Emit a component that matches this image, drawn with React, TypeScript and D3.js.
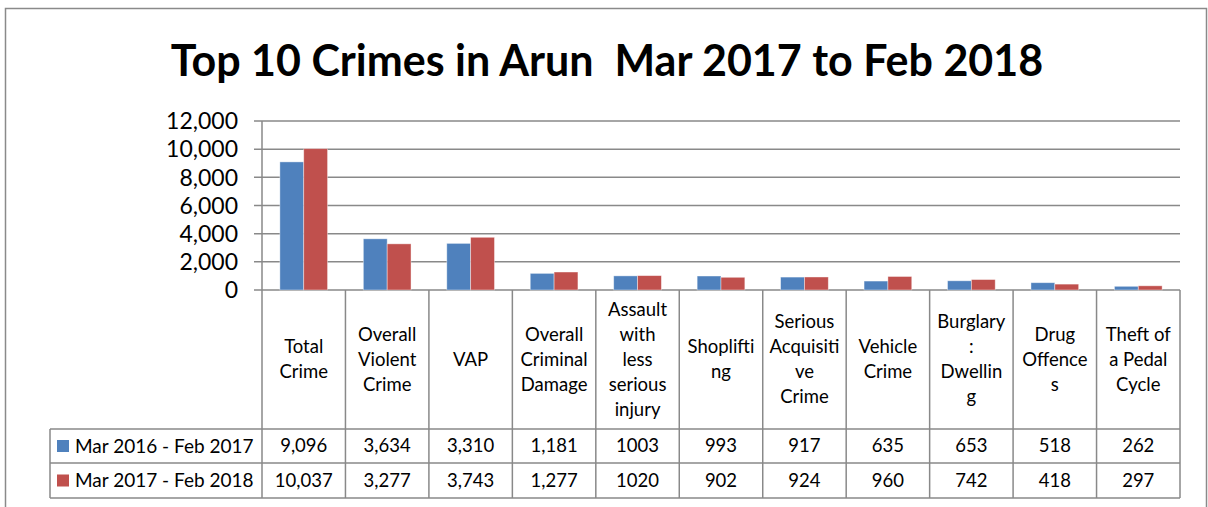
import React from "react";
import * as d3 from "d3";

const title = "Top 10 Crimes in Arun  Mar 2017 to Feb 2018";
const categories = [
  "Total\nCrime",
  "Overall\nViolent\nCrime",
  "VAP",
  "Overall\nCriminal\nDamage",
  "Assault\nwith\nless\nserious\ninjury",
  "Shoplifti\nng",
  "Serious\nAcquisiti\nve\nCrime",
  "Vehicle\nCrime",
  "Burglary\n:\nDwellin\ng",
  "Drug\nOffence\ns",
  "Theft of\na Pedal\nCycle",
];
const seriesNames = ["Mar 2016 - Feb 2017", "Mar 2017 - Feb 2018"];
const values2016 = [9096, 3634, 3310, 1181, 1003, 993, 917, 635, 653, 518, 262];
const values2017 = [10037, 3277, 3743, 1277, 1020, 902, 924, 960, 742, 418, 297];
const tableLabels2016 = ["9,096", "3,634", "3,310", "1,181", "1003", "993", "917", "635", "653", "518", "262"];
const tableLabels2017 = ["10,037", "3,277", "3,743", "1,277", "1020", "902", "924", "960", "742", "418", "297"];
const yTicks = [0, 2000, 4000, 6000, 8000, 10000, 12000];
const colors = ["#4F81BD", "#C0504D"];

const W = 1208;
const H = 507;
const font = "Lato, 'Noto Sans', sans-serif";
const gridColor = "#898989";

export default function App() {
  const left = 262;
  const right = 1180;
  const top = 121;
  const bottom = 290;
  const headerBottom = 429;
  const rowMid = 463;
  const rowBottom = 498;
  const legendLeft = 50;

  const x = d3.scaleBand<number>().domain(d3.range(categories.length)).range([left, right]);
  const y = d3.scaleLinear().domain([0, 12000]).range([bottom, top]);
  const inner = d3.scaleBand<number>().domain([0, 1]).range([0, x.bandwidth()]).paddingOuter(0.75);
  const fmt = d3.format(",");
  const series = [values2016, values2017];
  const tableRows = [tableLabels2016, tableLabels2017];
  const lineH = 25;
  const fs = 18.5;

  return (
    <div style={{ position: "absolute", left: 0, top: 0 }}>
      <svg width={W} height={H} style={{ display: "block", fontFamily: font }}>
        <rect x={0} y={0} width={W} height={H} fill="#fff" />
        <rect x={5.5} y={8.5} width={1201} height={H + 20} fill="none" stroke="#8a8a8a" strokeWidth={1.5} />
        <text x={607} y={76} textAnchor="middle" fontSize={43} fontWeight="bold" fill="#000" style={{ whiteSpace: "pre" }}>
          {title}
        </text>

        {/* gridlines + y ticks */}
        {yTicks.map((t) => (
          <g key={t}>
            <line x1={254} x2={right} y1={y(t)} y2={y(t)} stroke={gridColor} strokeWidth={1.5} />
            <text x={238} y={y(t)} dy="0.36em" textAnchor="end" fontSize={23} fill="#000">
              {fmt(t)}
            </text>
          </g>
        ))}

        {/* bars */}
        {series.map((vals, s) =>
          vals.map((v, i) => (
            <rect
              key={s + "-" + i}
              x={(x(i) as number) + (inner(s) as number)}
              y={y(v)}
              width={inner.bandwidth()}
              height={bottom - y(v)}
              fill={colors[s]}
              stroke="#ffffff"
              strokeOpacity={0.5}
              strokeWidth={0.8}
            />
          ))
        )}

        {/* table */}
        <line x1={left} x2={left} y1={top} y2={rowBottom} stroke={gridColor} strokeWidth={1.5} />
        {categories.map((c, i) => {
          const x1 = (x(i) as number) + x.bandwidth();
          return <line key={"v" + i} x1={x1} x2={x1} y1={bottom} y2={rowBottom} stroke={gridColor} strokeWidth={1.5} />;
        })}
        <line x1={legendLeft} x2={legendLeft} y1={headerBottom} y2={rowBottom} stroke={gridColor} strokeWidth={1.5} />
        {[headerBottom, rowMid, rowBottom].map((yy) => (
          <line key={yy} x1={legendLeft} x2={right} y1={yy} y2={yy} stroke={gridColor} strokeWidth={1.5} />
        ))}

        {categories.map((c, i) => {
          const lines = c.split("\n");
          const cx = (x(i) as number) + x.bandwidth() / 2;
          const cy = (bottom + headerBottom) / 2;
          return (
            <text key={"c" + i} x={cx} textAnchor="middle" fontSize={fs} fill="#000">
              {lines.map((l, k) => (
                <tspan key={k} x={cx} y={cy + (k - (lines.length - 1) / 2) * lineH} dy="0.35em">
                  {l}
                </tspan>
              ))}
            </text>
          );
        })}

        {tableRows.map((row, r) => {
          const cy = r === 0 ? (headerBottom + rowMid) / 2 : (rowMid + rowBottom) / 2;
          return (
            <g key={"r" + r}>
              <rect x={57} y={cy - 6} width={12} height={12} fill={colors[r]} />
              <text x={75} y={cy} dy="0.35em" fontSize={fs + 0.5} fill="#000">
                {seriesNames[r]}
              </text>
              {row.map((lab, i) => (
                <text
                  key={i}
                  x={(x(i) as number) + x.bandwidth() / 2}
                  y={cy}
                  dy="0.35em"
                  textAnchor="middle"
                  fontSize={fs}
                  fill="#000"
                >
                  {lab}
                </text>
              ))}
            </g>
          );
        })}
      </svg>
    </div>
  );
}
